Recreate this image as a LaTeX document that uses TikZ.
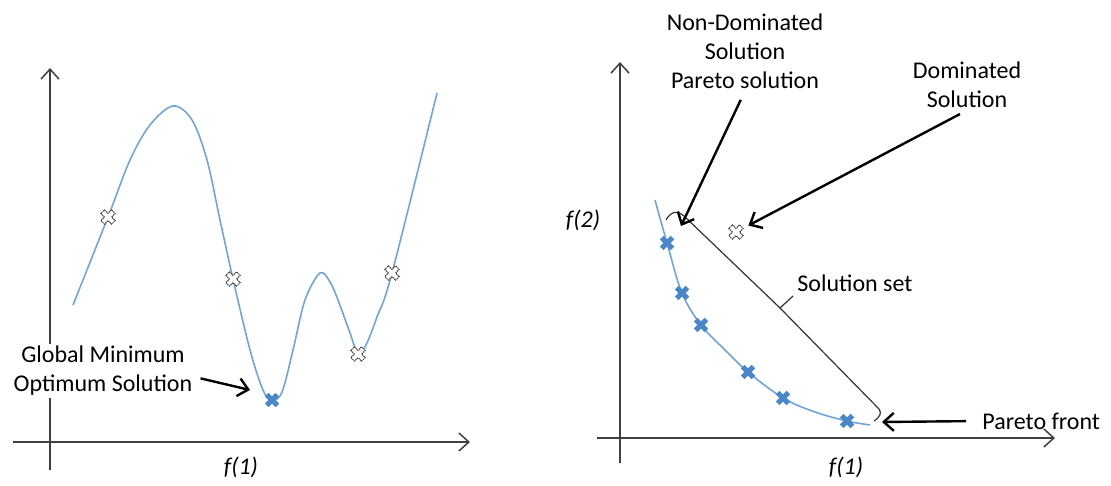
\documentclass[tikz,border=0pt]{standalone}
\usepackage{fontspec}
\setmainfont{Carlito}
\usetikzlibrary{arrows.meta}

\definecolor{ptblue}{HTML}{4A86C8}
\definecolor{curveblue}{HTML}{6EA6DC}
\definecolor{axisgray}{HTML}{404040}

\tikzset{
  xmark/.pic={\path[pic actions,rotate=45] (2.6,2.6) -- (7.6,2.6) -- (7.6,-2.6) -- (2.6,-2.6) -- (2.6,-7.6) -- (-2.6,-7.6) -- (-2.6,-2.6) -- (-7.6,-2.6) -- (-7.6,2.6) -- (-2.6,2.6) -- (-2.6,7.6) -- (2.6,7.6) -- cycle;},
  goodpt/.style={fill=ptblue},
  badpt/.style={fill=white,draw=black!75,dash pattern=on 0.7pt off 0.35pt,line width=0.5pt},
  axis/.style={draw=axisgray,line width=0.75pt,-{Straight Barb[length=5pt,width=9pt]}},
  callout/.style={draw=black,line width=1.2pt,-{Straight Barb[length=5pt,width=9pt]}},
  txt/.style={font=\fontsize{12}{14.5}\selectfont,align=center,inner sep=1pt},
  fcurve/.style={draw=curveblue,line width=0.8pt},
  bracket/.style={draw=black!80,line width=0.6pt,line join=round}
}

\begin{document}
\begin{tikzpicture}[x=0.5pt,y=-0.5pt]
        \useasboundingbox (0,0) rectangle (1111,486);
        % single objective
        \draw[axis] (50,470) -- (50,68);
        \draw[axis] (13,442) -- (470,442);
        \node[txt] (lfx) at (241,467) {\itshape f(1)};
        \draw[fcurve] plot[smooth,tension=0.55] coordinates {(73,305) (108,217) (130,160) (150,125) (173,106) (192,120) (207,160) (220,220) (233,279) (250,350) (263,390) (272,400) (282,392) (293,350) (305,300) (320,273) (330,282) (338,300) (350,333) (358,354) (366,345) (377,317) (392,273) (437,93)};
        \coordinate (la) at (108,217);
        \coordinate (lb) at (233,279);
        \coordinate (lmin) at (272,400);
        \coordinate (lc) at (358,354);
        \coordinate (ld) at (392,273);
        \foreach \p in {la,lb,lc,ld} \pic[badpt] at (\p) {xmark};
        \pic[goodpt] at (lmin) {xmark};
        \node[txt,fill=white] (gm) at (103,371) {Global Minimum\\Optimum Solution};
        \coordinate (gmtip) at (250,390);
        \draw[callout,shorten <=3pt] ([yshift=-3pt]gm.east) -- (gmtip);

        % two objectives
        \draw[axis] (620,463) -- (620,62);
        \draw[axis] (597,438) -- (1055,438);
        \node[txt] (rfx) at (846,467) {\itshape f(1)};
        \node[txt] (rfy) at (583,220) {\itshape f(2)};
        \draw[fcurve] plot[smooth,tension=0.6] coordinates {(655,200) (667,243) (682,293) (701,325) (725,350) (748,372) (783,398) (815,412) (847,421) (870,425)};
        \coordinate (pa) at (667,243);
        \coordinate (pb) at (682,293);
        \coordinate (pc) at (701,325);
        \coordinate (pd) at (748,372);
        \coordinate (pe) at (783,398);
        \coordinate (pf) at (847,421);
        \foreach \p in {pa,pb,pc,pd,pe,pf} \pic[goodpt] at (\p) {xmark};
        \coordinate (dmark) at (736,232);
        \pic[badpt] at (dmark) {xmark};
        % bracket over the solution set
        \coordinate (btop) at (684,216);
        \coordinate (bmid) at (780,308);
        \coordinate (bbot) at (879,409);
        \draw[bracket] (666,220) .. controls (670,213) and (676,209) .. (btop) -- (bmid) -- (bbot) .. controls (882,413) and (880,417) .. (874,421);
        \draw[bracket] (bmid) -- (793,296);
        \node[txt,anchor=west] (sset) at (795,283) {Solution set};

        \node[txt] (ndom) at (745,51) {Non-Dominated\\Solution\\Pareto solution};
        \coordinate (ndomtip) at (681,226);
        \draw[callout,shorten <=5pt] (ndom.south) -- (ndomtip);
        \node[txt] (dom) at (967,85) {Dominated\\Solution};
        \draw[callout,shorten <=4pt,shorten >=7pt] (dom.south) -- (dmark);
        \node[txt,anchor=west] (pfront) at (980,421) {Pareto front};
        \coordinate (pfend) at (882,422);
        \draw[callout,shorten <=7pt] (pfront.west) -- (pfend);
\end{tikzpicture}
\end{document}
